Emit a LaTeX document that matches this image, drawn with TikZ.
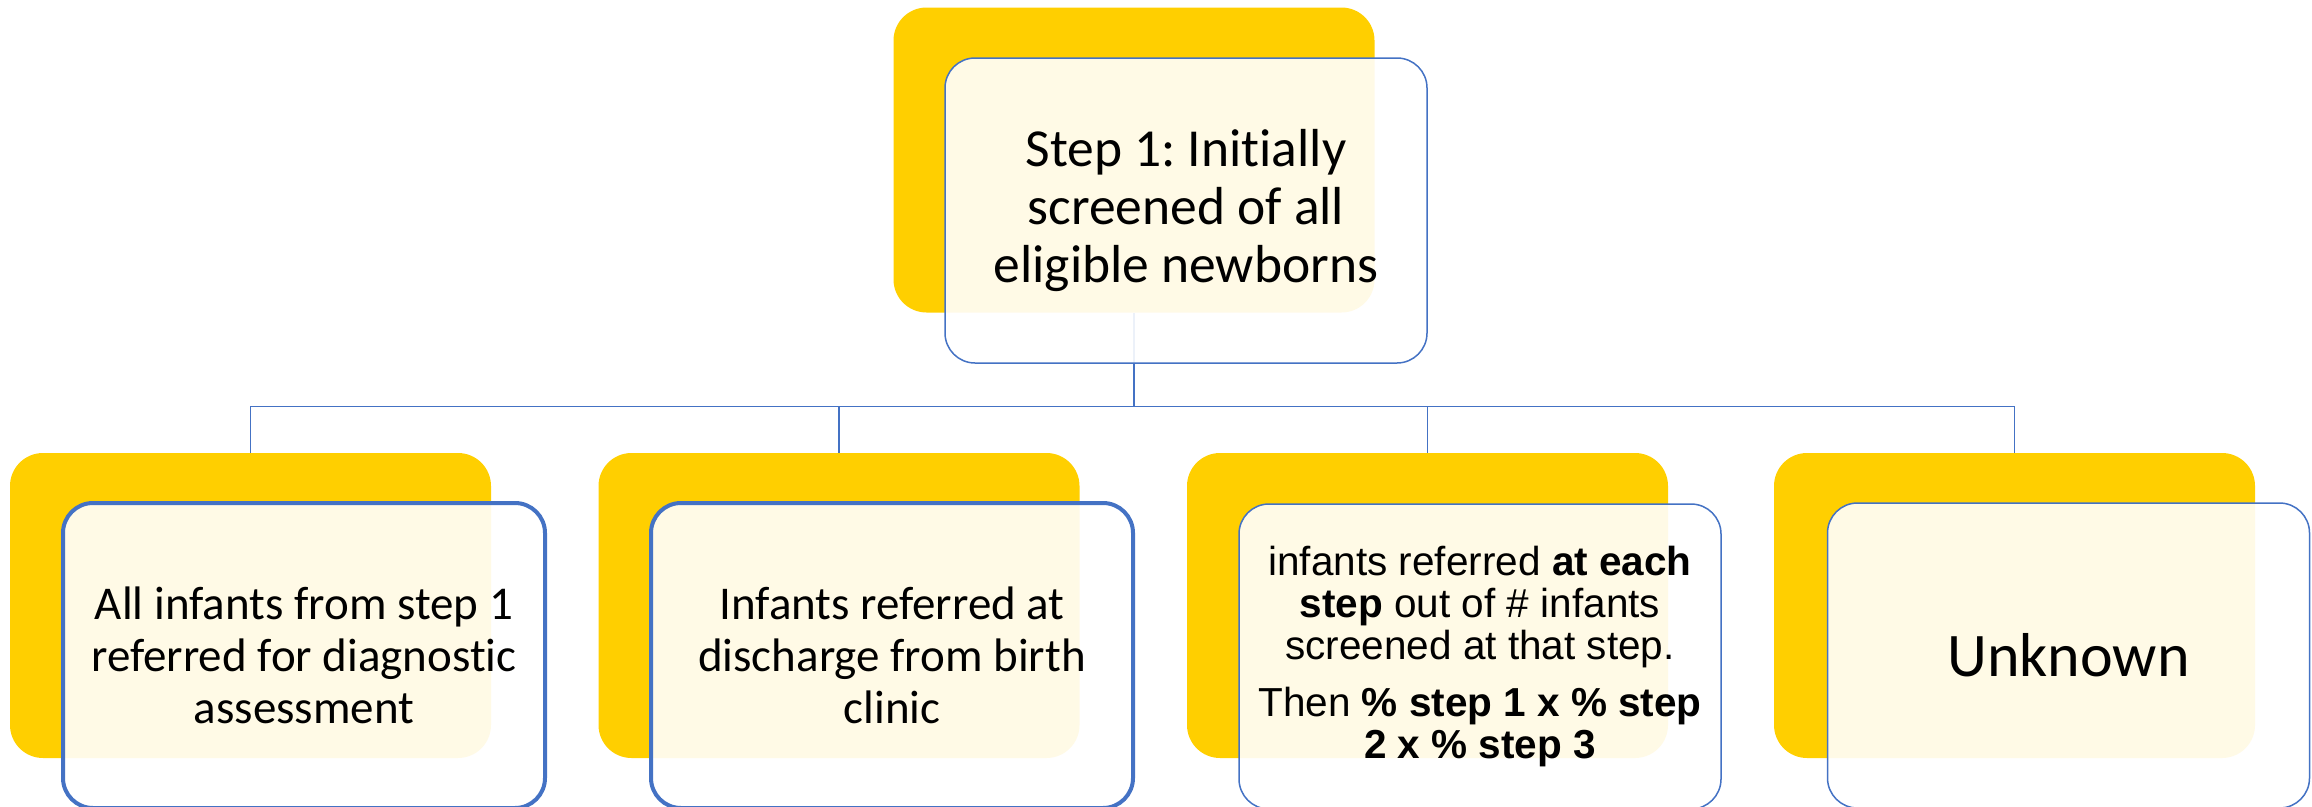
\documentclass[tikz,border=0pt]{standalone}
\usepackage{fontspec}
\setmainfont[Ligatures=NoCommon]{Carlito}
\newfontfamily\arialfont{Liberation Sans}
\definecolor{gold}{RGB}{255,207,0}
\definecolor{sablue}{RGB}{68,114,196}
\frenchspacing
\begin{document}
\begin{tikzpicture}[x=1pt,y=-1pt,
  ybox/.style={fill=gold, draw=none, rounded corners=33pt, minimum width=481pt, minimum height=305pt, inner sep=0pt},
  wbox/.style={fill=white, fill opacity=0.9, text opacity=1, draw=sablue, draw opacity=1, line width=1.5pt, rounded corners=30pt, minimum width=482pt, minimum height=305pt, align=center, inner sep=0pt, text=black},
  wthick/.style={wbox, line width=4pt},
  conn/.style={draw=sablue, line width=1.5pt}]
\useasboundingbox (0,0) rectangle (2312,806);
% yellow back boxes
\node[ybox] (ty) at (1134,160) {};
\node[ybox] (b1y) at (250.5,605.5) {};
\node[ybox] (b2y) at (839,605.5) {};
\node[ybox] (b3y) at (1427.5,605.5) {};
\node[ybox] (b4y) at (2014.5,605.5) {};
% connectors
\draw[conn] (ty.south) -- ++(0,94) coordinate (hub);
\draw[conn] (hub) -| (b1y.north);
\draw[conn] (hub) -| (b2y.north);
\draw[conn] (hub) -| (b3y.north);
\draw[conn] (hub) -| (b4y.north);
% front boxes
\node[wbox, font={\fontsize{53.5}{58}\selectfont}] (tw) at (1186,210.5)
  {Step 1: Initially\\screened of all\\eligible newborns};
\node[wthick, font={\fontsize{47}{52}\selectfont}] (b1w) at (304,655.5)
  {All infants from step 1\\referred for diagnostic\\assessment};
\node[wthick, font={\fontsize{47}{52}\selectfont}] (b2w) at (892,655.5)
  {Infants referred at\\discharge from birth\\clinic};
\node[wbox, font={\arialfont\fontsize{40.5}{42}\selectfont}] (b3w) at (1480,656.5)
  {infants referred \textbf{at each}\\\textbf{step} out of \# infants\\screened at that step.\\[15pt]Then \textbf{\% step 1 x \% step}\\\textbf{2 x \% step 3}};
\node[wbox, font={\fontsize{62}{68}\selectfont}] (b4w) at (2068.5,655.5)
  {Unknown};
\end{tikzpicture}
\end{document}
